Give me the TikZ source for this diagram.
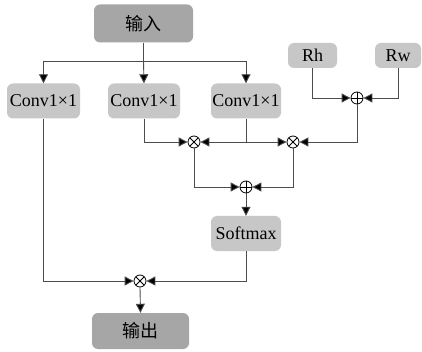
\documentclass[tikz,border=0pt]{standalone}
\usepackage{fontspec}
\setmainfont{Liberation Serif}
\newfontfamily\cjk{Noto Sans CJK SC}
\usetikzlibrary{arrows.meta}
\tikzset{
  blk/.style={rounded corners=6pt, fill=black!22, draw=none, inner sep=0pt,
    font=\fontsize{18}{20}\selectfont},
  io/.style={blk, fill=black!35, font=\cjk\fontsize{18}{20}\selectfont},
  opnode/.style={circle, draw=black, line width=0.8pt, fill=white, minimum size=12pt, inner sep=0pt},
  otimesn/.style={opnode, path picture={
    \draw[line width=0.8pt] (path picture bounding box.north west) -- (path picture bounding box.south east)
      (path picture bounding box.south west) -- (path picture bounding box.north east);}},
  oplusn/.style={opnode, path picture={
    \draw[line width=0.8pt] (path picture bounding box.north) -- (path picture bounding box.south)
      (path picture bounding box.west) -- (path picture bounding box.east);}},
  conn/.style={draw=black!70, line width=0.9pt},
  arr/.style={conn, -{Triangle[length=9pt,width=9pt,fill=black]}},
}
\begin{document}
\begin{tikzpicture}[x=1pt,y=-1pt]
\useasboundingbox (0,0) rectangle (422,352);
\fill[white] (0,0) rectangle (422,352);
% boxes
\node[io, minimum width=99pt, minimum height=38pt] (in) at (143.5,23.5) {输入};
\node[blk, minimum width=73pt, minimum height=35pt] (c1) at (43.5,101) {Conv1×1};
\node[blk, minimum width=72pt, minimum height=35pt] (c2) at (144,101) {Conv1×1};
\node[blk, minimum width=70pt, minimum height=35pt] (c3) at (246,101) {Conv1×1};
\node[blk, minimum width=49pt, minimum height=25pt] (rh) at (312.5,55.5) {Rh};
\node[blk, minimum width=46pt, minimum height=25pt] (rw) at (398,55.5) {Rw};
\node[blk, minimum width=70pt, minimum height=35pt] (sm) at (246,233.5) {Softmax};
\node[io, minimum width=97pt, minimum height=36pt] (out) at (140.5,331) {输出};
% operators
\node[oplusn] (op1) at (357,98) {};
\node[otimesn] (ot1) at (194,142) {};
\node[otimesn] (ot2) at (293,142) {};
\node[oplusn] (op2) at (246,187) {};
\node[otimesn] (ot3) at (140,281) {};
% connectors
\coordinate (split) at (143.5,61);
\coordinate (c3j) at (246,142);
\draw[conn] (in.south) -- (split);
\draw[arr] (split) -| (c1.north);
\draw[arr] (split) -- (c2.north);
\draw[arr] (split) -| (c3.north);
\draw[arr] (rh.south) |- (op1.west);
\draw[arr] (rw.south) |- (op1.east);
\draw[arr] (op1.south) |- (ot2.east);
\draw[arr] (c2.south) |- (ot1.west);
\draw[conn] (c3.south) -- (c3j);
\draw[arr] (c3j) -- (ot1.east);
\draw[arr] (c3j) -- (ot2.west);
\draw[arr] (ot1.south) |- (op2.west);
\draw[arr] (ot2.south) |- (op2.east);
\draw[arr] (op2.south) -- (sm.north);
\draw[arr] (sm.south) |- (ot3.east);
\draw[arr] (c1.south) |- (ot3.west);
\draw[arr] (ot3.south) -- (out.north);
\end{tikzpicture}
\end{document}
